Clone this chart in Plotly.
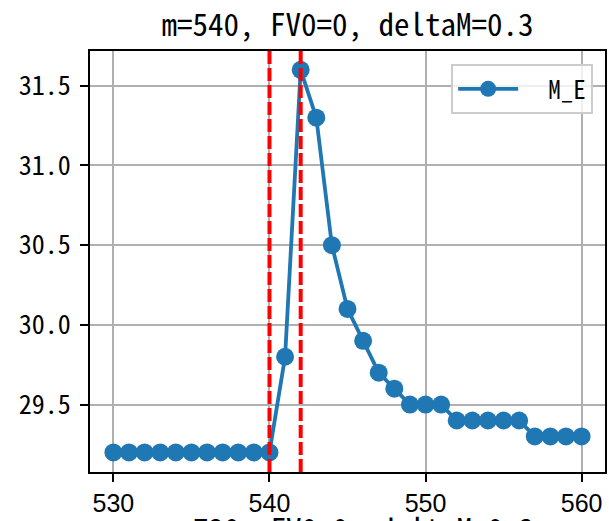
import plotly.graph_objects as go

x_vals = list(range(530, 561))
m_e = [29.2, 29.2, 29.2, 29.2, 29.2, 29.2, 29.2, 29.2, 29.2, 29.2, 29.2,
       29.8, 31.6, 31.3, 30.5, 30.1, 29.9, 29.7, 29.6, 29.5, 29.5,
       29.5, 29.4, 29.4, 29.4, 29.4, 29.4, 29.3, 29.3, 29.3, 29.3]
vlines = [540, 542]
x_ticks = [530, 540, 550, 560]
y_ticks = [29.5, 30.0, 30.5, 31.0, 31.5]
y_tick_text = ["29.5", "30.0", "30.5", "31.0", "31.5"]
title_text = "m=540, FV0=0, deltaM=0.3"
next_title = "m=720, FV0=0, deltaM=0.3"
series_name = "M_E"

MONO = "Noto Sans Mono CJK SC, Noto Sans CJK SC, DejaVu Sans Mono, monospace"
SANS = "Liberation Sans, Arial, sans-serif"

fig = go.Figure()
fig.add_trace(go.Scatter(
    x=x_vals, y=m_e, mode="lines+markers", name="\u00a0\u00a0" + series_name,
    line=dict(color="#1f77b4", width=3.8),
    marker=dict(color="#1f77b4", size=18),
))

for v in vlines:
    fig.add_shape(type="line", xref="x", yref="paper", x0=v, x1=v, y0=0, y1=1,
                  line=dict(color="red", width=4, dash="13px,4px"), layer="above")

fig.add_annotation(text=next_title, xref="paper", yref="paper", x=0.5, y=0,
                   xanchor="center", yanchor="top", yshift=-31, showarrow=False,
                   font=dict(family=MONO, size=31, color="black"))

fig.update_layout(
    width=609, height=521,
    margin=dict(l=90, r=2, t=51, b=49),
    paper_bgcolor="white", plot_bgcolor="white",
    title=dict(text=title_text, x=0.5, xref="paper", xanchor="center",
               y=0.952, yanchor="middle",
               font=dict(family=MONO, size=31, color="black")),
    showlegend=True,
    legend=dict(x=0.977, y=0.969, xanchor="right", yanchor="top",
                bgcolor="rgba(255,255,255,0.8)", bordercolor="#cccccc", borderwidth=2,
                font=dict(family=MONO, size=25, color="black"),
                itemwidth=60),
)
fig.update_xaxes(range=[528.5, 561.5], tickvals=x_ticks, ticks="outside", ticklen=8,
                 tickwidth=2, tickcolor="black", showline=True, mirror=True,
                 linecolor="black", linewidth=2, showgrid=True, gridcolor="#b0b0b0",
                 gridwidth=2, zeroline=False,
                 tickfont=dict(family=SANS, size=25, color="black"))
fig.update_yaxes(range=[29.077, 31.718], tickvals=y_ticks, ticktext=y_tick_text,
                 ticks="outside", ticklen=8, ticklabelstandoff=4,
                 tickwidth=2, tickcolor="black", showline=True, mirror=True,
                 linecolor="black", linewidth=2, showgrid=True, gridcolor="#b0b0b0",
                 gridwidth=2, zeroline=False,
                 tickfont=dict(family=MONO, size=26, color="black"))

fig.write_html("out.html", config={"displayModeBar": False},
               post_script="document.body.style.margin='0px';document.body.style.overflow='hidden';")
